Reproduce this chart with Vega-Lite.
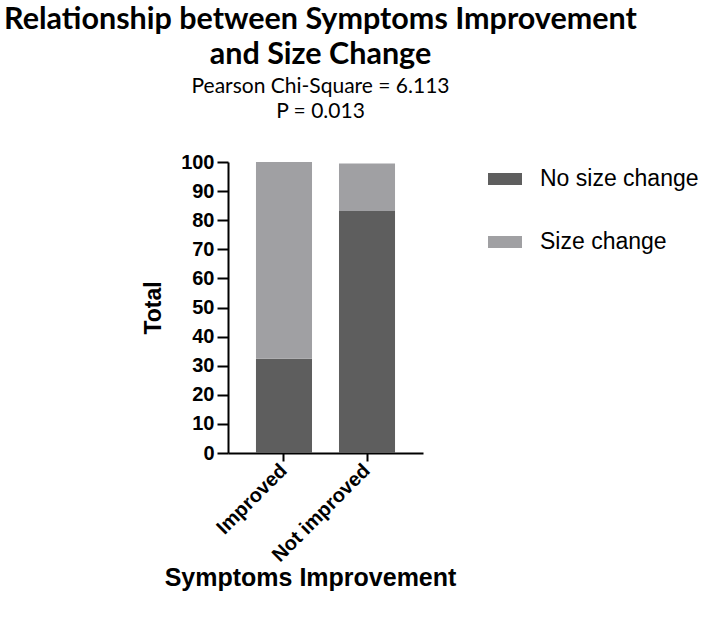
{
  "$schema": "https://vega.github.io/schema/vega-lite/v6.json",
  "width": 195,
  "height": 291,
  "padding": {"left": 4, "top": 4, "right": 3, "bottom": 5},
  "background": "white",
  "title": {
    "text": ["Relationship between Symptoms Improvement", "and Size Change"],
    "subtitle": ["Pearson Chi-Square = 6.113", "P = 0.013"],
    "frame": "group",
    "anchor": "middle",
    "dx": -5,
    "font": "Lato",
    "fontSize": 30.5,
    "fontWeight": "bold",
    "lineHeight": 35,
    "color": "black",
    "subtitleFont": "Lato",
    "subtitleFontSize": 21,
    "subtitleLineHeight": 25,
    "subtitleColor": "black",
    "subtitlePadding": 6,
    "offset": 30
  },
  "data": {
    "values": [
      {"Symptoms": "Improved", "Group": "No size change", "Total": 32.4},
      {"Symptoms": "Improved", "Group": "Size change", "Total": 67.6},
      {"Symptoms": "Not improved", "Group": "No size change", "Total": 83.2},
      {"Symptoms": "Not improved", "Group": "Size change", "Total": 16.3}
    ]
  },
  "mark": {"type": "bar"},
  "encoding": {
    "x": {
      "field": "Symptoms",
      "type": "nominal",
      "scale": {"paddingInner": 0.325, "paddingOuter": 0.337},
      "axis": {
        "title": "Symptoms Improvement",
        "titleX": 82,
        "labelAngle": -45,
        "labelAlign": "right",
        "labelBaseline": "middle",
        "labelFont": "Liberation Sans",
        "labelFontSize": 20,
        "labelFontWeight": "bold",
        "labelColor": "black",
        "labelPadding": 6,
        "tickSize": 8,
        "tickWidth": 2,
        "tickColor": "black",
        "domainColor": "black",
        "domainWidth": 2,
        "titleFont": "Liberation Sans",
        "titleFontSize": 25,
        "titleFontWeight": "bold",
        "titleColor": "black",
        "titlePadding": 0
      }
    },
    "y": {
      "field": "Total",
      "type": "quantitative",
      "stack": "zero",
      "scale": {"domain": [0, 100], "nice": false},
      "axis": {
        "title": "Total",
        "values": [0, 10, 20, 30, 40, 50, 60, 70, 80, 90, 100],
        "grid": false,
        "labelFont": "Liberation Sans",
        "labelFontSize": 20,
        "labelFontWeight": "bold",
        "labelColor": "black",
        "labelPadding": 3,
        "tickSize": 11,
        "tickWidth": 2,
        "tickColor": "black",
        "domainColor": "black",
        "domainWidth": 2,
        "titleFont": "Liberation Sans",
        "titleFontSize": 23,
        "titleFontWeight": "bold",
        "titleColor": "black",
        "titlePadding": 15
      }
    },
    "color": {
      "field": "Group",
      "type": "nominal",
      "scale": {"domain": ["No size change", "Size change"], "range": ["#5e5e5e", "#a0a0a3"]},
      "legend": {
        "title": null,
        "orient": "right",
        "offset": 65,
        "padding": 0,
        "symbolType": "M-1,-0.36H1V0.36H-1Z",
        "symbolSize": 1156,
        "symbolStrokeWidth": 0,
        "labelFont": "Liberation Sans",
        "labelFontSize": 23,
        "labelColor": "black",
        "labelOffset": 18,
        "rowPadding": 34
      }
    },
    "order": {"field": "Group", "sort": "ascending"}
  },
  "config": {
    "view": {"stroke": null}
  }
}
